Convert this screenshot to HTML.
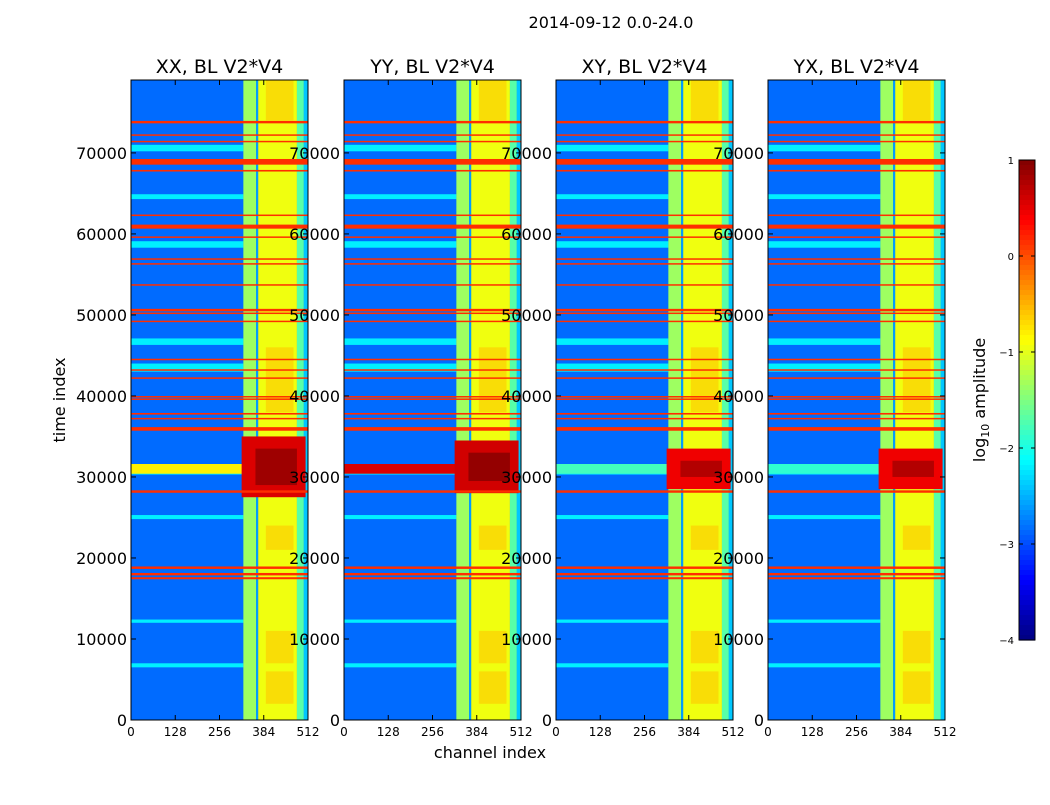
<!DOCTYPE html>
<html><head><meta charset="utf-8"><style>
body{margin:0;background:#fff;}
svg text{font-family:"DejaVu Sans","Liberation Sans",sans-serif;}
</style></head><body>
<svg id="fig" width="1050" height="800" viewBox="0 0 1050 800" xmlns="http://www.w3.org/2000/svg">
<rect width="1050" height="800" fill="#fff"/>
<text x="611" y="28" font-size="16" text-anchor="middle">2014-09-12 0.0-24.0</text>
<text transform="translate(65,400) rotate(-90)" font-size="16" text-anchor="middle">time index</text>
<text x="490" y="758" font-size="16" text-anchor="middle">channel index</text>
<text transform="translate(985,400) rotate(-90)" font-size="16" text-anchor="middle">log<tspan font-size="11" dy="4">10</tspan><tspan dy="-4"> amplitude</tspan></text>
<g id="panels"></g>
<g id="cbar"></g>
</svg>
<script>
const panelTitles=["XX, BL V2*V4","YY, BL V2*V4","XY, BL V2*V4","YX, BL V2*V4"];
const yTicks=[0,10000,20000,30000,40000,50000,60000,70000];
const xTicks=[0,128,256,384,512];
const cbTicks=[1,0,-1,-2,-3,-4];
const rfiTimes=[73800,72200,71400,68900,67800,62300,60900,59600,56900,56300,53700,50600,50200,49200,44500,43200,42200,39900,39600,37800,37200,36000,35800,28200,18800,18000,17500];
const rfiWidths=[300,150,150,700,200,150,500,150,150,150,150,300,150,150,150,150,150,150,150,200,150,300,150,300,300,300,250];
const lightT0=[64300,58300,46300,43000,24800,12000,6500,70200,30300];
const lightT1=[64900,59100,47100,44000,25300,12400,7000,71000,31300];
const bandCh0=[325,362,368,480,500];
const bandCh1=[362,368,480,500,512];
const bandVal=[-1.35,-2.6,-0.95,-1.7,-2.4];
const blobT0=[27500,28000,28500,28500];
const blobT1=[35000,34500,33500,33500];
const blobVal=[0.55,0.6,0.45,0.45];
const stripeVal=[-0.8,0.55,-1.8,-1.9];
const bgVal=-2.85;
const rfiVal=0.15;
const panelX=[131,344,556,768];
const PW=177,PY=80,PH=640,TMAX=79000,CMAX=512;
function jet(v){let t=(v+4)/5;t=Math.max(0,Math.min(1,t));
 const r=Math.max(0,Math.min(1,1.5-Math.abs(4*t-3))),g=Math.max(0,Math.min(1,1.5-Math.abs(4*t-2))),b=Math.max(0,Math.min(1,1.5-Math.abs(4*t-1)));
 return `rgb(${Math.round(r*255)},${Math.round(g*255)},${Math.round(b*255)})`;}
const NS="http://www.w3.org/2000/svg";
function el(tag,attrs,parent){const e=document.createElementNS(NS,tag);for(const k in attrs)e.setAttribute(k,attrs[k]);parent.appendChild(e);return e;}
const panels=document.getElementById('panels');
panelTitles.forEach((title,p)=>{
 const x0=panelX[p];
 const xs=c=>x0+c/CMAX*PW, ys=t=>PY+PH-t/TMAX*PH;
 const g=el('g',{},panels);
 
 
 const bg=el('rect',{x:x0,y:PY,width:PW,height:PH,fill:jet(bgVal)},g);
 
 
 lightT0.forEach((t0,i)=>{const r=el('rect',{x:xs(0),y:ys(lightT1[i]),width:xs(325)-xs(0),height:ys(t0)-ys(lightT1[i]),fill:jet(-2.2)},g);
  
  });
 bandCh0.forEach((c0,i)=>{const r=el('rect',{x:xs(c0),y:PY,width:xs(bandCh1[i])-xs(c0),height:PH,fill:jet(bandVal[i])},g);
  
  });
 [[2000,6000],[7000,11000],[21000,24000],[38000,46000],[74000,79000]].forEach(([a,b])=>{const r=el('rect',{x:xs(390),y:ys(b),width:xs(470)-xs(390),height:ys(a)-ys(b),fill:jet(-0.6),opacity:0.6},g);
  
  });
 const s=el('rect',{x:xs(0),y:ys(31600),width:xs(325)-xs(0),height:ys(30400)-ys(31600),fill:jet(stripeVal[p])},g);
 
 
 const b=el('rect',{x:xs(320),y:ys(blobT1[p]),width:xs(505)-xs(320),height:ys(blobT0[p])-ys(blobT1[p]),fill:jet(blobVal[p])},g);
 
 
 const b2=el('rect',{x:xs(360),y:ys(blobT1[p]-1500),width:xs(480)-xs(360),height:ys(blobT0[p]+1500)-ys(blobT1[p]-1500),fill:jet(blobVal[p]+0.3)},g);
 
 
 rfiTimes.forEach((t,i)=>{const h=Math.max(1.5,rfiWidths[i]/TMAX*PH);const r=el('rect',{x:x0,y:ys(t)-h/2,width:PW,height:h,fill:jet(rfiVal)},g);
  
  });
 el('rect',{x:x0,y:PY,width:PW,height:PH,fill:'none',stroke:'#000','stroke-width':1},g);
 const tt=el('text',{x:x0+PW/2,y:73,'font-size':19,'text-anchor':'middle'},g);tt.textContent=title;
 
 
 yTicks.forEach(v=>{const y=ys(v);el('line',{x1:x0,x2:x0+5,y1:y,y2:y,stroke:'#000'},g);el('line',{x1:x0+PW,x2:x0+PW-5,y1:y,y2:y,stroke:'#000'},g);
  const t=el('text',{x:x0-4,y:y+6,'font-size':16,'text-anchor':'end'},g);t.textContent=v;
  
  });
 xTicks.forEach(v=>{const x=xs(v);el('line',{x1:x,x2:x,y1:PY+PH,y2:PY+PH-5,stroke:'#000'},g);el('line',{x1:x,x2:x,y1:PY,y2:PY+5,stroke:'#000'},g);
  const t=el('text',{x:x,y:736,'font-size':12,'text-anchor':'middle'},g);t.textContent=v;
  
  });
});
const cb=document.getElementById('cbar');


const CX=1019,CW=16,CY=160,CH=480;
for(let i=0;i<96;i++){const v=1-5*(i+0.5)/96;el('rect',{x:CX,y:CY+i*CH/96,width:CW,height:CH/96+0.6,fill:jet(v)},cb);}
el('rect',{x:CX,y:CY,width:CW,height:CH,fill:'none',stroke:'#000'},cb);
cbTicks.forEach(v=>{const y=CY+(1-v)/5*CH;el('line',{x1:CX,x2:CX+4,y1:y,y2:y,stroke:'#000'},cb);el('line',{x1:CX+CW,x2:CX+CW-4,y1:y,y2:y,stroke:'#000'},cb);
 const t=el('text',{x:CX-5,y:y+4,'font-size':10,'text-anchor':'end'},cb);t.textContent=(v<0?'\u2212'+(-v):v);
 
 });
</script>
</body></html>
